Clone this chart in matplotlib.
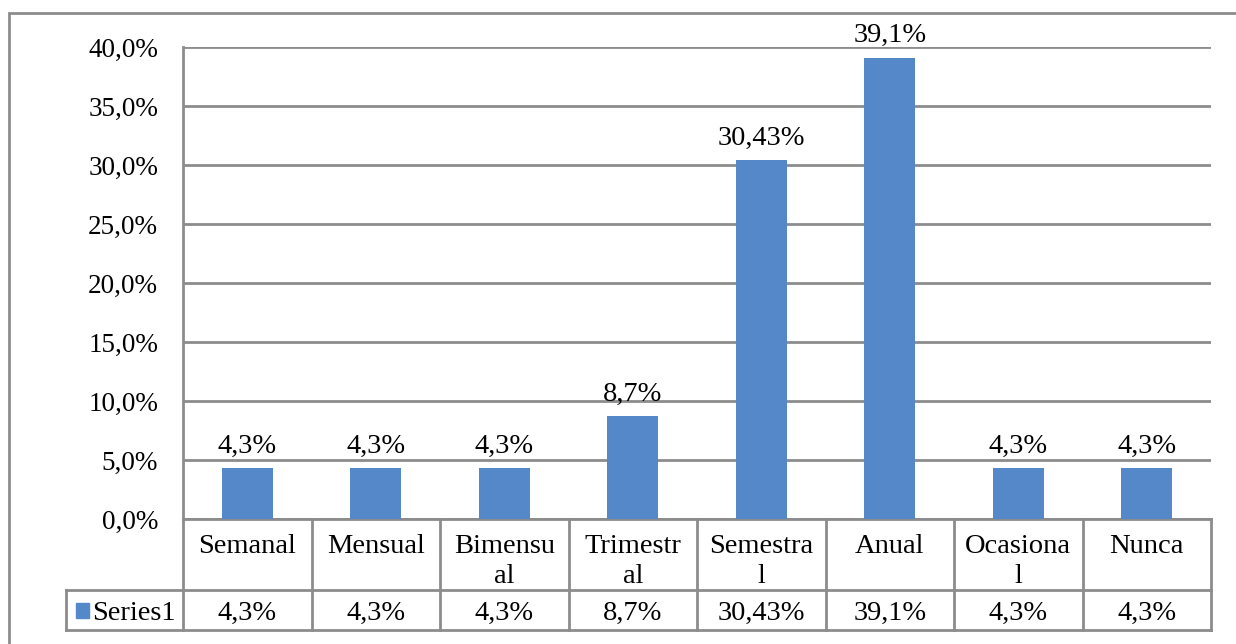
import matplotlib.pyplot as plt
import matplotlib.transforms as mtransforms
from matplotlib.patches import Rectangle

categories = ['Semanal', 'Mensual', 'Bimensual', 'Trimestral',
              'Semestral', 'Anual', 'Ocasional', 'Nunca']
# header text as it wraps inside the narrow table cells
header_labels = ['Semanal', 'Mensual', 'Bimensu\nal', 'Trimestr\nal',
                 'Semestra\nl', 'Anual', 'Ocasiona\nl', 'Nunca']
values = [4.3, 4.3, 4.3, 8.7, 30.43, 39.1, 4.3, 4.3]
series_name = 'Series1'
yticks = [0, 5, 10, 15, 20, 25, 30, 35, 40]

bar_color = '#5588C8'
line_color = '#8C8C8C'
fs = 20.5
plt.rcParams['font.family'] = ['Liberation Serif', 'DejaVu Serif']


def pct(v, decimals=None):
    if decimals is not None:
        s = '%.*f' % (decimals, v)
    else:
        s = '%g' % v
    return s.replace('.', ',') + '%'


fig = plt.figure(figsize=(12.36, 6.44), dpi=100)
ax = fig.add_axes([183 / 1236, 1 - 519 / 644, 1028 / 1236, 472 / 644])

x = list(range(len(categories)))
ax.bar(x, values, width=0.4, color=bar_color, zorder=3)
for xi, v in zip(x, values):
    ax.annotate(pct(v), (xi, v), xytext=(0, 11), textcoords='offset points',
                ha='center', va='baseline', fontsize=fs)

ax.set_xlim(-0.5, len(categories) - 0.5)
ax.set_ylim(0, 40)
ax.set_yticks(yticks)
ax.set_yticklabels([pct(t, 1) for t in yticks], fontsize=19.5)
ax.tick_params(axis='y', length=0, pad=18)
ax.set_xticks([])
ax.yaxis.grid(True, color=line_color, linewidth=2)
ax.set_axisbelow(True)
for side in ['top', 'right']:
    ax.spines[side].set_visible(False)
for side in ['left', 'bottom']:
    ax.spines[side].set_color(line_color)
    ax.spines[side].set_linewidth(2)

# data table under the plot
tr = mtransforms.blended_transform_factory(ax.transData, ax.transAxes)
row1 = -0.150
row2 = -0.235
key_left = -1.41
n = len(categories)
lw = 2
for b in range(n + 1):
    ax.plot([b - 0.5, b - 0.5], [0, row2], transform=tr, color=line_color,
            lw=lw, clip_on=False, solid_capstyle='projecting')
ax.plot([key_left, key_left], [row1, row2], transform=tr, color=line_color,
        lw=lw, clip_on=False, solid_capstyle='projecting')
for yy in [row1, row2]:
    ax.plot([key_left, n - 0.5], [yy, yy], transform=tr, color=line_color,
            lw=lw, clip_on=False, solid_capstyle='projecting')

line_base = [-0.072, -0.136]
for xi, lab, v in zip(x, header_labels, values):
    for k, part in enumerate(lab.split('\n')):
        ax.text(xi, line_base[k], part, transform=tr, ha='center',
                va='baseline', fontsize=fs)
    ax.text(xi, -0.214, pct(v), transform=tr, ha='center',
            va='baseline', fontsize=fs)

ax.add_patch(Rectangle((-1.33, -0.209), 0.1, 0.03, transform=tr,
                       color=bar_color, clip_on=False))
ax.text(-1.21, -0.214, series_name, transform=tr, ha='left',
        va='baseline', fontsize=fs)

# chart area border
fig.patches.append(Rectangle((9 / 1236, -0.05), 1.1, 1 - 13 / 644 + 0.05,
                             transform=fig.transFigure, fill=False,
                             edgecolor=line_color, linewidth=2))

fig.savefig('out.png', dpi=100)
